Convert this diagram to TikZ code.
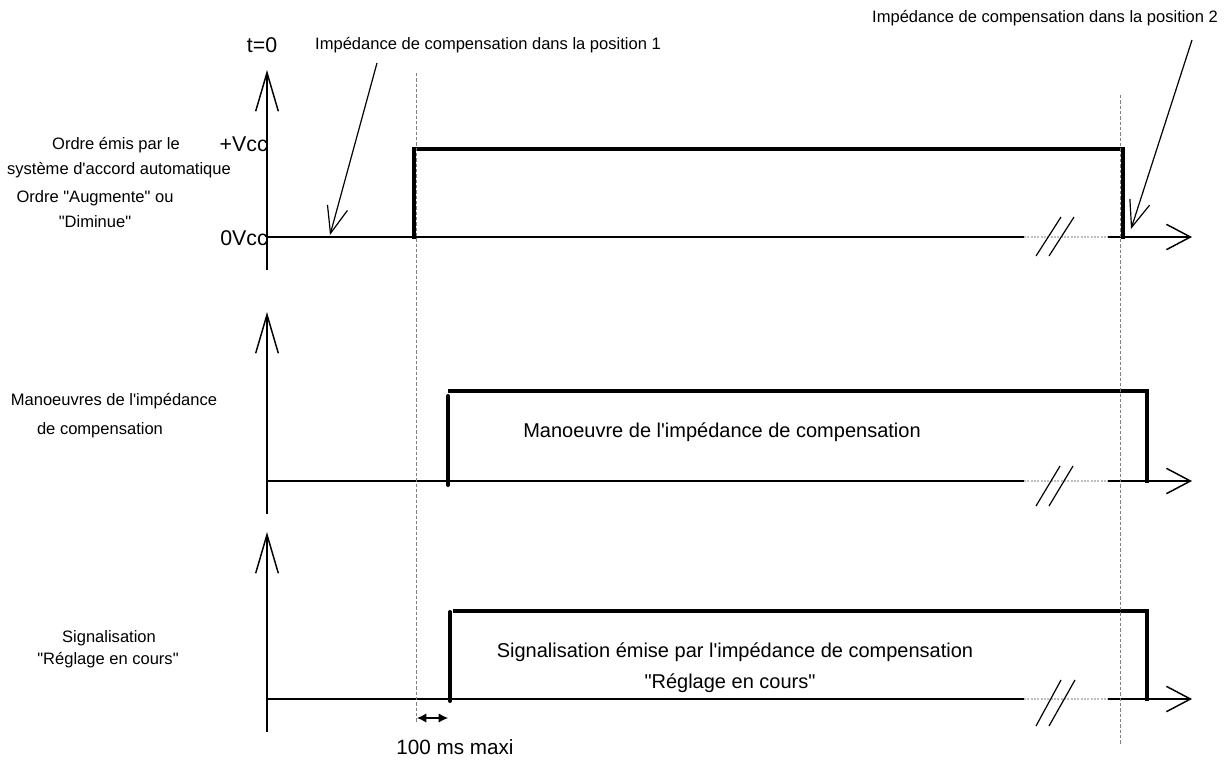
\documentclass[tikz,border=0pt]{standalone}
\usepackage{fontspec}
\setmainfont{Liberation Sans}[Ligatures=TeXOff]
\usetikzlibrary{arrows.meta}
\begin{document}
\begin{tikzpicture}[x=0.75pt,y=-0.75pt,
  axis/.style={line width=1.1pt},
  vaxis/.style={axis,-{Straight Barb[length=29pt,width=17pt]}},
  haxis/.style={axis,-{Straight Barb[length=18pt,width=19pt]}},
  gapline/.style={gray!50,line width=0.8pt,dash pattern=on 1.5pt off 1pt},
  pulse/.style={line width=3pt},
  guide/.style={gray,line width=0.6pt,dash pattern=on 2.5pt off 1.5pt},
  brk/.style={line width=0.9pt},
  lbl/.style={font=\fontsize{12.4pt}{14pt}\selectfont,inner sep=0pt},
  big/.style={font=\fontsize{16pt}{18pt}\selectfont,inner sep=0pt},
  mid/.style={font=\fontsize{15pt}{18pt}\selectfont,inner sep=0pt},
  pointer/.style={line width=0.9pt,-{Straight Barb[length=20pt,width=15.5pt]}},
  dim/.style={line width=0.9pt,{Latex[length=7pt,width=7pt]}-{Latex[length=7pt,width=7pt]}}
]
\useasboundingbox (0,0) rectangle (1231,760);

% ---------- panel 1 ----------
\coordinate (a1b) at (267,270);
\coordinate (a1t) at (267,70);
\draw[vaxis] (a1b) -- (a1t);
\coordinate (h1s) at (267,237);
\coordinate (h1g) at (1024,237);
\coordinate (h1r) at (1108,237);
\coordinate (h1e) at (1192,237);
\draw[axis] (h1s) -- (h1g);
\draw[gapline] (h1g) -- (h1r);
\draw[haxis] (h1r) -- (h1e);
\draw[brk] (1036,256) -- (1061,217);
\draw[brk] (1049,256) -- (1074,217);
\coordinate (p1a) at (414,239);
\coordinate (p1b) at (414,149);
\coordinate (p1c) at (1123,149);
\coordinate (p1d) at (1123,239);
\draw[pulse,line join=miter] (p1a) -- (p1b) -- (p1c) -- (p1d);

% ---------- panel 2 ----------
\coordinate (a2b) at (267,514);
\coordinate (a2t) at (267,312);
\draw[vaxis] (a2b) -- (a2t);
\coordinate (h2s) at (267,481);
\coordinate (h2g) at (1024,481);
\coordinate (h2r) at (1108,481);
\coordinate (h2e) at (1192,481);
\draw[axis] (h2s) -- (h2g);
\draw[gapline] (h2g) -- (h2r);
\draw[haxis] (h2r) -- (h2e);
\draw[brk] (1036,506) -- (1060,466);
\draw[brk] (1049,506) -- (1073,466);
\coordinate (p2a) at (448,485);
\coordinate (p2b) at (448,396);
\coordinate (p2c) at (448,391);
\coordinate (p2d) at (1147,391);
\coordinate (p2e) at (1147,483);
\draw[pulse,line cap=round] (p2a) -- (p2b);
\draw[pulse,line join=miter] (p2c) -- (p2d) -- (p2e);

% ---------- panel 3 ----------
\coordinate (a3b) at (267,732);
\coordinate (a3t) at (267,532);
\draw[vaxis] (a3b) -- (a3t);
\coordinate (h3s) at (267,699);
\coordinate (h3g) at (1024,699);
\coordinate (h3r) at (1108,699);
\coordinate (h3e) at (1192,699);
\draw[axis] (h3s) -- (h3g);
\draw[gapline] (h3g) -- (h3r);
\draw[haxis] (h3r) -- (h3e);
\draw[brk] (1036,726) -- (1061,680);
\draw[brk] (1049,726) -- (1075,680);
\coordinate (p3a) at (450,701);
\coordinate (p3b) at (450,612);
\coordinate (p3c) at (453,611);
\coordinate (p3d) at (1147,611);
\coordinate (p3e) at (1147,701);
\draw[pulse,line cap=round] (p3a) -- (p3b);
\draw[pulse,line join=miter] (p3c) -- (p3d) -- (p3e);

% ---------- guides ----------
\coordinate (g1t) at (416.5,73);
\coordinate (g1b) at (416.5,722);
\coordinate (g2t) at (1120,95);
\coordinate (g2b) at (1120,745);
\draw[guide] (g1t) -- (g1b);
\draw[guide] (g2t) -- (g2b);

% ---------- labels ----------
\node[big] (t0) at (262,45) {t=0};
\node[big,anchor=east] (vcc) at (268,144) {+Vcc};
\node[big,anchor=east] (zvcc) at (268,238) {0Vcc};
\node[lbl] (l1a) at (116,145) {Ordre émis par le};
\node[lbl] (l1b) at (119,170) {système d'accord automatique};
\node[lbl] (l1c) at (95,198) {Ordre "Augmente" ou};
\node[lbl] (l1d) at (95,222) {"Diminue"};
\node[lbl] (l2a) at (114,401) {Manoeuvres de l'impédance};
\node[lbl] (l2b) at (100,430) {de compensation};
\node[lbl] (l3a) at (109,638) {Signalisation};
\node[lbl] (l3b) at (108,660) {"Réglage en cours"};

\node[mid] (m2) at (722,432) {Manoeuvre de l'impédance de compensation};
\node[mid] (m3a) at (735,652) {Signalisation émise par l'impédance de compensation};
\node[mid] (m3b) at (730,683) {"Réglage en cours"};

\node[lbl] (pos1) at (488,45) {Impédance de compensation dans la position 1};
\node[lbl] (pos2) at (1045,18) {Impédance de compensation dans la position 2};

\coordinate (q1s) at (377,63);
\coordinate (q1e) at (330,235);
\draw[pointer] (q1s) -- (q1e);
\coordinate (q2s) at (1192,40);
\coordinate (q2e) at (1131,229);
\draw[pointer] (q2s) -- (q2e);

% ---------- 100 ms ----------
\coordinate (d1) at (417,718);
\coordinate (d2) at (448,718);
\draw[dim] (d1) -- (d2);
\node[lbl,font=\fontsize{15.5pt}{18pt}\selectfont] (ms) at (455,747) {100 ms maxi};
\end{tikzpicture}
\end{document}
